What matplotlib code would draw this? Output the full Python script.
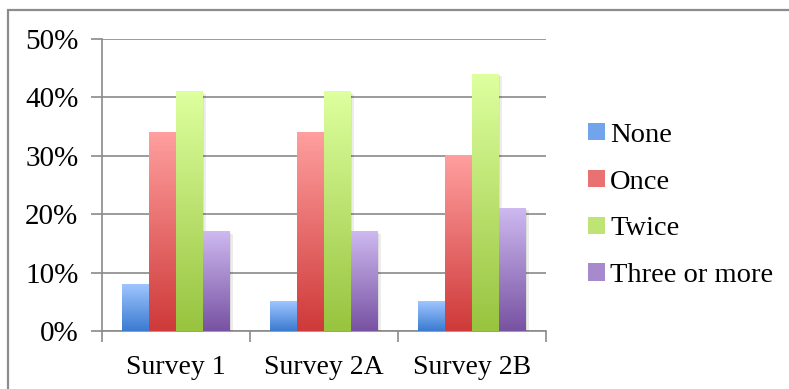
import matplotlib
matplotlib.use("Agg")
import matplotlib.pyplot as plt
import matplotlib.patheffects as pe
import numpy as np
from matplotlib.colors import LinearSegmentedColormap
from matplotlib.patches import Patch, Rectangle
from matplotlib.ticker import FixedLocator, FuncFormatter

surveys = ["Survey 1", "Survey 2A", "Survey 2B"]
answers = ["None", "Once", "Twice", "Three or more"]
none_pct = [8, 5, 5]
once_pct = [34, 34, 30]
twice_pct = [41, 41, 44]
three_pct = [17, 17, 21]
y_ticks = [0, 10, 20, 30, 40, 50]

# light (top) -> dark (bottom) colours for each series
shades = [
    ("#9ec5ff", "#3b7bd0"),
    ("#ff9e9e", "#cf3a3a"),
    ("#ddff9e", "#98c440"),
    ("#cdb8ef", "#7853a3"),
]

plt.rcParams["font.family"] = ["Liberation Serif", "DejaVu Serif"]

W, H = 789, 389
fig = plt.figure(figsize=(W / 100, H / 100), dpi=100)
ax = fig.add_axes([102 / W, (H - 331) / H, (546 - 102) / W, (331 - 39) / H])

series = [none_pct, once_pct, twice_pct, three_pct]
x = np.arange(len(surveys))
bar_w = 0.1824
offsets = (np.arange(len(series)) - 1.5) * bar_w

for vals, off, (light, dark), name in zip(series, offsets, shades, answers):
    cmap = LinearSegmentedColormap.from_list(name, [dark, light])
    bars = ax.bar(x + off, vals, bar_w, color="white", zorder=3,
                  path_effects=[pe.SimplePatchShadow(offset=(2, -1.5), shadow_rgbFace="#000000", alpha=0.07),
                                pe.SimplePatchShadow(offset=(1, -1), shadow_rgbFace="#000000", alpha=0.07),
                                pe.Normal()])
    for b in bars:
        bx, bw, bh = b.get_x(), b.get_width(), b.get_height()
        grad = np.linspace(1, 0, 64).reshape(-1, 1)
        ax.imshow(grad, cmap=cmap, extent=[bx, bx + bw, 0, bh],
                  aspect="auto", zorder=4, interpolation="bilinear")

ax.set_xlim(-0.5, len(surveys) - 0.5)
ax.set_ylim(0, 50)

ax.yaxis.set_major_locator(FixedLocator(y_ticks))
ax.yaxis.set_major_formatter(FuncFormatter(lambda v, _: f"{v:.0f}%"))
ax.grid(axis="y", color="#8a8a8a", linewidth=1.2, zorder=1)
ax.set_axisbelow(True)

ax.set_xticks(x)
ax.set_xticklabels(surveys)
ax.set_xticks(np.arange(len(surveys) + 1) - 0.5, minor=True)
ax.tick_params(axis="x", which="major", length=0, pad=17, labelsize=20)
ax.tick_params(axis="x", which="minor", length=8, width=1.2, color="#8a8a8a")
ax.tick_params(axis="y", length=8, width=1.2, color="#8a8a8a", pad=9, labelsize=21)

for side in ("top", "right"):
    ax.spines[side].set_visible(False)
for side in ("left", "bottom"):
    ax.spines[side].set_color("#8a8a8a")
    ax.spines[side].set_linewidth(1.2)

handles = [Patch(facecolor=LinearSegmentedColormap.from_list("m", [d, l])(0.55), edgecolor="none")
           for l, d in shades]
ax.legend(handles, answers, loc="center left", bbox_to_anchor=(588 / W, (H - 205.5) / H),
          bbox_transform=fig.transFigure, frameon=False, fontsize=20.5, borderpad=0,
          borderaxespad=0, handlelength=0.58, handleheight=0.58, handletextpad=0.2,
          labelspacing=0.77)

# outer chart frame (only top and left edges fall inside the image)
fig.add_artist(Rectangle((8 / W, -0.1), 1.2, (H - 10) / H + 0.1, transform=fig.transFigure,
                         fill=False, edgecolor="#8c8c8c", linewidth=1.6))

fig.savefig("out.png", dpi=100)
